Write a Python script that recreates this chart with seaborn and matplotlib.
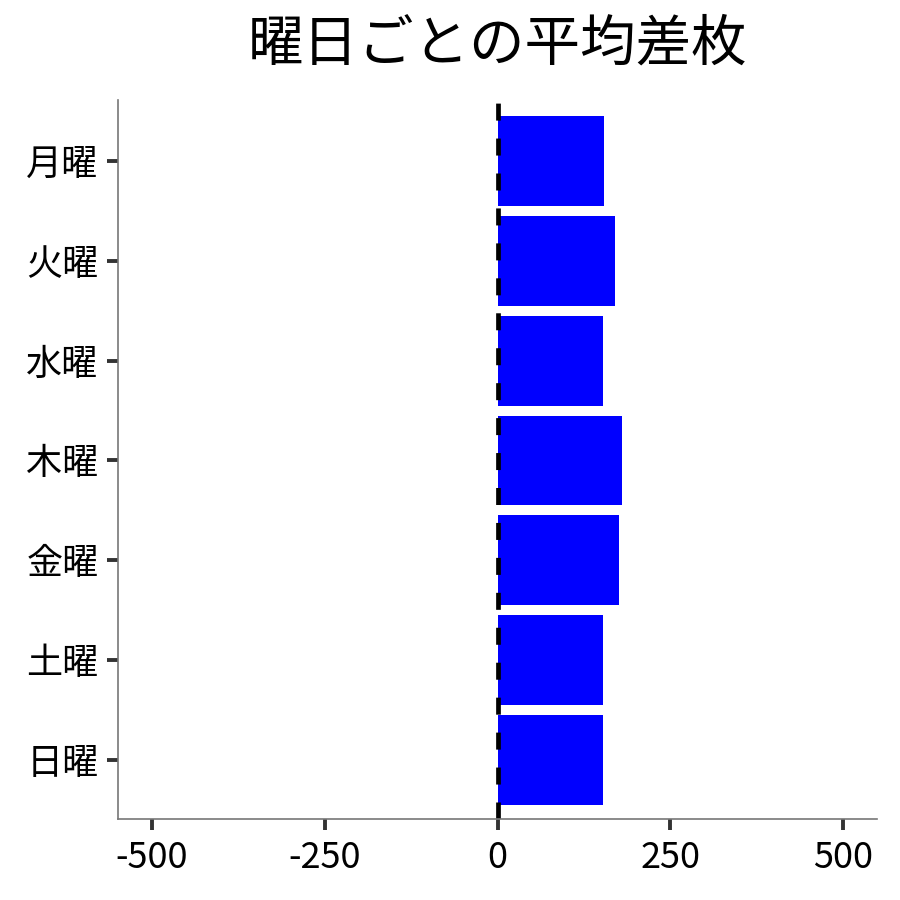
import matplotlib
matplotlib.use("Agg")
import matplotlib.pyplot as plt
import seaborn as sns
import pandas as pd

# ---------------------------------------------------------
# DATA
# ---------------------------------------------------------
days = ["月曜", "火曜", "水曜", "木曜", "金曜", "土曜", "日曜"]
avg_diff = [154, 170, 152, 180, 176, 152, 152]

df = pd.DataFrame({"曜日": days, "平均差枚": avg_diff})

# ---------------------------------------------------------
# STYLE
# ---------------------------------------------------------
sns.set_style("white")
plt.rcParams["font.family"] = ["Noto Sans CJK JP", "DejaVu Sans"]
plt.rcParams["axes.unicode_minus"] = False
plt.rcParams["text.color"] = "black"
plt.rcParams["xtick.color"] = "black"
plt.rcParams["ytick.color"] = "black"

fig = plt.figure(figsize=(4.5, 4.5), dpi=200)
ax = fig.add_axes([0.131, 0.09, 0.843, 0.799])

sns.barplot(data=df, y="曜日", x="平均差枚", orient="h", color="#0000ff",
            saturation=1, width=0.9, linewidth=0, ax=ax)

# zero line
ax.axvline(0, color="black", lw=1.7, linestyle=(0, (3.6, 3.8)))

ax.set_xlim(-549, 548)
ax.set_ylim(6.59, -0.61)
ax.set_xticks([-500, -250, 0, 250, 500])
ax.set_xlabel("")
ax.set_ylabel("")
ax.set_title("曜日ごとの平均差枚", fontsize=20, pad=14)

sns.despine(ax=ax)
for side in ["left", "bottom"]:
    ax.spines[side].set_color("#777777")
    ax.spines[side].set_linewidth(0.6)

ax.tick_params(axis="both", which="major", length=4, width=1.4,
               color="#333333", labelcolor="black", labelsize=13,
               bottom=True, left=True)
ax.tick_params(axis="y", pad=3)

fig.savefig("out.png", dpi=200)
